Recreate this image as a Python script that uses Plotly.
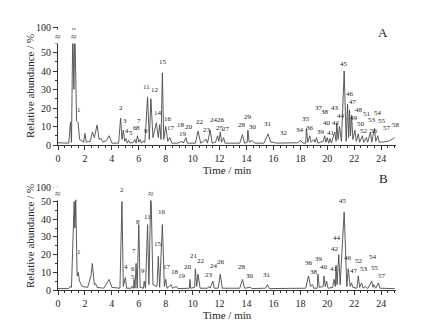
import plotly.graph_objects as go

# ---------------- data: chromatogram A (time, relative abundance; top of broken axis = "100") -------------
time_A = [0.0, 0.5, 0.8, 0.93, 1.0, 1.1, 1.18, 1.25, 1.38, 1.5, 1.6, 1.9, 2.0, 2.1, 2.4, 2.55, 2.7, 2.9, 3.05,
          3.2, 3.35, 3.6, 3.8, 4.0, 4.5, 4.65, 4.75, 4.85, 4.95, 5.05, 5.15, 5.25, 5.35, 5.6, 5.7, 5.8, 5.9,
          6.0, 6.1, 6.2, 6.3, 6.45, 6.65, 6.78, 6.9, 7.05, 7.3, 7.45, 7.55, 7.65, 7.75, 7.85, 8.0, 8.15, 8.3,
          8.45, 8.9, 9.2, 9.3, 9.5, 9.6, 10.2, 10.4, 10.6, 11.0, 11.1, 11.3, 11.45, 11.7, 11.85, 11.95, 12.05,
          12.15, 12.3, 12.4, 13.5, 13.7, 13.85, 14.05, 14.1, 14.2, 14.4, 14.6, 15.3, 15.6, 15.8, 16.0, 16.2,
          16.8, 17.8, 18.0, 18.2, 18.4, 18.45, 18.55, 18.7, 18.8, 19.0, 19.1, 19.2, 19.3, 19.7, 19.8, 19.9,
          20.0, 20.1, 20.2, 20.3, 20.55, 20.65, 20.7, 20.8, 20.9, 21.05, 21.25, 21.4, 21.5, 21.58, 21.65,
          21.72, 21.8, 21.9, 22.05, 22.15, 22.3, 22.4, 22.6, 22.7, 22.9, 23.0, 23.2, 23.3, 23.5, 23.6, 23.75,
          23.85, 24.0, 24.5, 24.8, 25.0]
abund_A = [1.2, 1.0, 1.0, 12.5, 1.5, 63, 30, 63, 13, 12, 3, 1.5, 6.3, 1.5, 2, 7, 4, 10.8, 3,
           3.5, 1.5, 2.5, 5, 1, 1, 14.5, 3, 8, 2, 3.5, 1, 2.5, 1, 1.5, 3, 1, 5,
           1.5, 3, 1, 2, 1.5, 26, 3, 25, 4, 12, 4, 11, 3, 39, 3, 10, 2, 4,
           1, 1, 2, 1, 4, 1, 1, 7.5, 1, 3, 1, 8, 1, 1.5, 5, 2, 7,
           1.5, 4, 1, 1, 5.6, 1, 1.5, 8, 1.5, 2.5, 1, 1, 6, 1.5, 1.5, 1,
           1.2, 1.2, 2.5, 1, 1, 9, 1.5, 5, 1.5, 3, 1.5, 4, 1, 2, 5, 1.5,
           4, 1, 3.5, 1, 7, 2, 12, 3, 10, 2, 40, 2, 22, 4, 19,
           5, 16, 3, 8, 2, 6, 1.5, 5, 1.5, 4, 1.5, 7, 1.5, 9, 2, 5,
           1.5, 1.5, 2, 3, 4]

# ---------------- data: chromatogram B -------------
time_B = [0.0, 0.8, 0.9, 1.0, 1.2, 1.25, 1.32, 1.42, 1.5, 1.6, 1.8, 2.2, 2.45, 2.55, 2.7, 2.8, 2.9, 3.4, 3.8,
          4.0, 4.6, 4.75, 4.85, 5.0, 5.1, 5.45, 5.5, 5.6, 5.65, 5.72, 5.8, 5.88, 6.0, 6.1, 6.35, 6.4, 6.5,
          6.65, 6.75, 6.9, 7.05, 7.35, 7.45, 7.55, 7.75, 7.9, 8.0, 8.1, 8.4, 8.5, 8.8, 8.9, 9.75, 9.8, 9.85,
          10.15, 10.2, 10.3, 10.4, 10.55, 11.1, 11.2, 11.3, 11.5, 11.6, 11.9, 12.05, 12.2, 13.5, 13.7, 13.85,
          14.3, 14.4, 15.4, 15.55, 15.7, 18.4, 18.6, 18.75, 18.9, 19.0, 19.25, 19.3, 19.4, 19.7, 19.75, 19.85,
          19.95, 20.05, 20.4, 20.5, 20.6, 20.65, 20.72, 20.85, 20.95, 21.25, 21.45, 21.55, 21.7, 21.8, 21.9,
          22.2, 22.3, 22.4, 22.55, 22.65, 22.8, 23.0, 23.3, 23.4, 23.45, 23.6, 23.8, 23.9, 24.5, 25.0]
abund_B = [0.8, 0.8, 2, 1.5, 50, 35, 51, 8, 10, 5, 2, 1.5, 8, 15, 3, 3.5, 1.5, 1, 6,
           1.5, 1, 50, 2, 7, 1, 1, 2, 1, 6, 1, 15, 1, 37, 1.5, 1, 5, 1,
           37, 3, 58, 3, 2, 19, 1.5, 37, 2, 6, 1, 3, 1, 2, 0.8, 1, 6, 1,
           1.5, 12, 2, 9, 1, 1, 2, 1, 5, 1, 1, 9, 1, 1, 6, 1,
           1.5, 0.8, 1, 3, 0.8, 1, 8, 2, 3, 1, 1, 9, 1.5, 2, 8, 2,
           5, 1, 1.5, 6, 2, 14, 3, 20, 3, 44, 2, 12, 2, 4, 1.5,
           1, 8, 1.5, 4, 1, 2, 0.8, 5, 1.5, 3, 1, 4, 1, 0.8, 0.8]

# ---------------- peak labels (number, time, abundance of label) -------------
labels_A = ["1", "2", "3", "4", "5", "6", "8", "7", "9", "11", "12", "14", "15", "16", "17", "18", "19", "20",
            "22", "23", "24", "25", "26", "27", "28", "29", "30", "31", "32", "34", "35", "36", "37", "38",
            "39", "40", "41", "42", "43", "44", "45", "46", "47", "48", "49", "50", "51", "52", "53", "54",
            "55", "56", "57", "58"]
lab_t_A = [1.58, 4.7, 4.95, 5.1, 5.4, 5.7, 5.93, 6.05, 6.5, 6.6, 7.2, 7.4, 7.8, 8.2, 8.4, 9.1, 9.3, 9.7,
           10.55, 11.1, 11.55, 12.0, 12.1, 12.5, 13.7, 14.1, 14.45, 15.6, 16.8, 18.0, 18.45, 18.75, 19.35, 19.85,
           19.55, 19.95, 20.3, 20.65, 20.6, 21.0, 21.25, 21.7, 21.9, 22.35, 21.95, 22.5, 22.95, 22.75, 23.3, 23.75,
           24.05, 23.5, 24.45, 25.1]
lab_v_A = [15.9, 16.6, 9.9, 4.5, 3.2, 5.8, 5.8, 9.9, 4.5, 28, 26.7, 13.9, 41.4, 10.8, 5.8, 7.6, 2.7, 6.3,
           9.4, 4.9, 10.5, 6.1, 10.1, 5.2, 7.4, 11.9, 6.7, 8.1, 3.2, 5.0, 11.0, 5.9, 16.8, 14.6,
           4.0, 8.8, 3.5, 8.6, 16.5, 12.6, 40.4, 24.2, 20.0, 15.8, 11.6, 8.2, 13.3, 4.3, 10.3, 14.0,
           9.8, 4.5, 6.0, 7.4]

labels_B = ["1", "2", "4", "5", "6", "7", "8", "9", "11", "13", "15", "16", "17", "18", "19", "20", "21", "22",
            "23", "24", "26", "28", "30", "31", "36", "38", "39", "40", "41", "42", "44", "45", "46", "47",
            "52", "53", "54", "55", "57"]
lab_t_B = [1.58, 4.75, 5.05, 5.55, 5.58, 5.68, 5.92, 6.33, 6.63, 6.88, 7.43, 7.75, 8.08, 8.68, 9.18, 9.68,
           10.13, 10.63, 11.18, 11.58, 12.08, 13.7, 14.23, 15.54, 18.66, 19.0, 19.37, 19.72, 20.48, 20.56,
           20.73, 21.19, 21.57, 21.95, 22.33, 22.7, 23.4, 23.52, 24.03]
lab_v_B = [18.3, 53, 9.4, 3.8, 8.5, 18.9, 34.9, 7.4, 38, 61, 22.6, 40.6, 9.4, 7.0, 4.7, 9.4,
           16, 12.8, 5.1, 10.4, 12.3, 9.8, 4.7, 5.1, 11.7, 7.0, 14.2, 9.8, 8.5, 19.8,
           26, 46.8, 14.7, 7.5, 13.2, 8.5, 15.1, 9.0, 4.7]

x_ticks = [0, 2, 4, 6, 8, 10, 12, 14, 16, 18, 20, 22, 24]
y_ticks_A = [0, 10, 20, 30, 40, 50, 63.5]
y_ticks_B = [0, 10, 20, 30, 40, 50, 58]
y_ticktext = ["0", "10", "20", "30", "40", "50", "100"]

# ---------------- figure -------------
FONT = "Liberation Serif"
W, H = 425, 322
line_col = "#4a4a4a"
txt_col = "#222222"

fig = go.Figure()
fig.add_trace(go.Scatter(x=time_A, y=abund_A, mode="lines", line=dict(color=line_col, width=0.9),
                         xaxis="x", yaxis="y", showlegend=False, hoverinfo="skip"))
fig.add_trace(go.Scatter(x=time_B, y=abund_B, mode="lines", line=dict(color=line_col, width=0.9),
                         xaxis="x2", yaxis="y2", showlegend=False, hoverinfo="skip"))

xdom = [50 / W, 388 / W]
domA = [(H - 137) / H, (H - 18.6) / H]
domB = [(H - 282) / H, (H - 177.7) / H]

axis_common = dict(showgrid=False, zeroline=False, showline=True, linecolor="#333", linewidth=1,
                   ticks="outside", ticklen=4, tickcolor="#333", automargin=False,
                   tickfont=dict(family=FONT, size=10, color=txt_col))

fig.update_layout(
    width=W, height=H, margin=dict(l=0, r=0, t=0, b=0, autoexpand=False),
    paper_bgcolor="white", plot_bgcolor="white",
    font=dict(family=FONT, color=txt_col),
    xaxis=dict(domain=xdom, range=[0, 25.1], anchor="y", tickvals=x_ticks,
               minor=dict(dtick=0.5, ticklen=2, ticks="outside", tickcolor="#333"),
               title=dict(text="Time / min", font=dict(family=FONT, size=11, color=txt_col), standoff=2),
               **axis_common),
    yaxis=dict(domain=domA, range=[0, 64], anchor="x", tickvals=y_ticks_A, ticktext=y_ticktext,
               minor=dict(tickvals=[5, 15, 25, 35, 45, 55], ticklen=2, ticks="outside", tickcolor="#333"),
               **axis_common),
    xaxis2=dict(domain=xdom, range=[0, 25.1], anchor="y2", tickvals=x_ticks,
                minor=dict(dtick=0.5, ticklen=2, ticks="outside", tickcolor="#333"),
                title=dict(text="Time / min", font=dict(family=FONT, size=11, color=txt_col), standoff=2),
                **axis_common),
    yaxis2=dict(domain=domB, range=[0, 59], anchor="x2", tickvals=y_ticks_B, ticktext=y_ticktext,
                minor=dict(tickvals=[5, 15, 25, 35, 45], ticklen=2, ticks="outside", tickcolor="#333"),
                **axis_common),
)

ann = []
for txt, t, v in zip(labels_A, lab_t_A, lab_v_A):
    ann.append(dict(x=t, y=v, xref="x", yref="y", text=txt, showarrow=False,
                    font=dict(family=FONT, size=7, color=txt_col), xanchor="center", yanchor="bottom"))
for txt, t, v in zip(labels_B, lab_t_B, lab_v_B):
    ann.append(dict(x=t, y=v, xref="x2", yref="y2", text=txt, showarrow=False,
                    font=dict(family=FONT, size=7, color=txt_col), xanchor="center", yanchor="bottom"))

# y-axis titles
for yc in [(H - 78) / H, (H - 228) / H]:
    ann.append(dict(x=22 / W, y=yc, xref="paper", yref="paper", text="Relative abundance / %",
                    textangle=-90, showarrow=False, xanchor="center", yanchor="middle",
                    font=dict(family=FONT, size=11, color=txt_col)))
# panel letters
ann.append(dict(x=375 / W, y=(H - 25) / H, xref="paper", yref="paper", text="A", showarrow=False,
                xanchor="center", yanchor="middle", font=dict(family=FONT, size=13, color=txt_col)))
ann.append(dict(x=375 / W, y=(H - 170) / H, xref="paper", yref="paper", text="B", showarrow=False,
                xanchor="center", yanchor="middle", font=dict(family=FONT, size=13, color=txt_col)))
# axis break marks
for xr, yr, yv in [("x", "y", 58.5), ("x2", "y2", 54.5)]:
    ann.append(dict(x=0, y=yv, xref=xr, yref=yr, text="≈", showarrow=False, bgcolor="white",
                    xanchor="center", yanchor="middle", font=dict(family=FONT, size=10, color="#333")))
ann.append(dict(x=1.2, y=58.5, xref="x", yref="y", text="≈", showarrow=False, bgcolor="white",
                xanchor="center", yanchor="middle", font=dict(family=FONT, size=10, color="#333")))
ann.append(dict(x=6.9, y=54.5, xref="x2", yref="y2", text="≈", showarrow=False, bgcolor="white",
                xanchor="center", yanchor="middle", font=dict(family=FONT, size=10, color="#333")))

fig.update_layout(annotations=ann)
fig.write_html("out.html")
